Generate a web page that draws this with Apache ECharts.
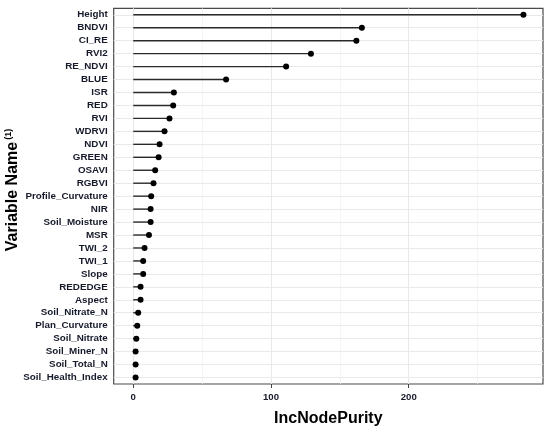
<!DOCTYPE html>
<html><head><meta charset="utf-8">
<script src="https://cdn.jsdelivr.net/npm/echarts@6/dist/echarts.min.js"></script>
<style>html,body{margin:0;padding:0;background:#fff}#c{width:550px;height:432px}</style>
</head><body><div id="c"></div>
<script>
const variables = ["Height","BNDVI","CI_RE","RVI2","RE_NDVI","BLUE","ISR","RED","RVI","WDRVI","NDVI","GREEN","OSAVI","RGBVI","Profile_Curvature","NIR","Soil_Moisture","MSR","TWI_2","TWI_1","Slope","REDEDGE","Aspect","Soil_Nitrate_N","Plan_Curvature","Soil_Nitrate","Soil_Miner_N","Soil_Total_N","Soil_Health_Index"];
const incNodePurity = [283.3,166,162,129,111,67.4,29.5,29.0,26.3,22.7,19.1,18.4,15.9,14.7,13.0,12.6,12.6,11.4,8.2,7.2,7.2,5.3,5.3,3.6,2.9,2.2,1.7,1.7,1.7];
const xMajorTicks = [0,100,200];
const xMinorLines = [50,150,250];
const xMin = -14.2, xMax = 297.5;

const chart = echarts.init(document.getElementById('c'), null, {renderer:'canvas'});
const font = 'Liberation Sans, Arial, sans-serif';
const txt = '#161a2a';
chart.setOption({
  animation:false,
  grid:{left:113.7, right:7, top:8.3, bottom:38.3, show:true, borderColor:'#4a4a4a', borderWidth:1.2, containLabel:false},
  xAxis:{type:'value', min:xMin, max:xMax,
    axisLine:{show:false}, splitLine:{show:false},
    axisTick:{show:true, customValues:xMajorTicks, length:4, lineStyle:{color:'#444'}},
    axisLabel:{customValues:xMajorTicks, fontFamily:font, fontWeight:'bold', fontSize:9.6, color:txt, margin:8},
    name:'IncNodePurity', nameLocation:'middle', nameGap:27,
    nameTextStyle:{fontFamily:font, fontWeight:'bold', fontSize:16, color:'#000'}
  },
  yAxis:{type:'category', data:variables, inverse:true,
    axisLine:{show:false}, splitLine:{show:false},
    axisTick:{show:true, alignWithLabel:true, length:4, lineStyle:{color:'#444'}},
    axisLabel:{fontFamily:font, fontWeight:'bold', fontSize:9.8, color:txt, margin:6, interval:0}
  },
  graphic:[{type:'text', x:13, y:190, rotation:Math.PI/2,
    style:{text:'{a|Variable Name}{s|(1)}', align:'center', verticalAlign:'middle', rich:{
      a:{fontFamily:font, fontWeight:'bold', fontSize:16, fill:'#000'},
      s:{fontFamily:font, fontWeight:'bold', fontSize:9, fill:'#000', padding:[0,0,9,2]}
    }}}],
  series:[
    {type:'bar', data:incNodePurity, barWidth:1.4, itemStyle:{color:'#2a2a2a'}, silent:true, z:3,
     markLine:{silent:true, symbol:'none', label:{show:false}, animation:false,
       data:[
         ...xMinorLines.map(v=>({xAxis:v, lineStyle:{color:'#f3f3f3', width:0.8, type:'solid'}})),
         ...xMajorTicks.map(v=>({xAxis:v, lineStyle:{color:'#e9e9e9', width:1.1, type:'solid'}})),
         ...variables.map(v=>({yAxis:v, lineStyle:{color:'#e9e9e9', width:1.1, type:'solid'}}))
       ], z:1}
    },
    {type:'scatter', data:incNodePurity, symbolSize:6, itemStyle:{color:'#000', opacity:1}, z:4, silent:true}
  ]
});
</script></body></html>
